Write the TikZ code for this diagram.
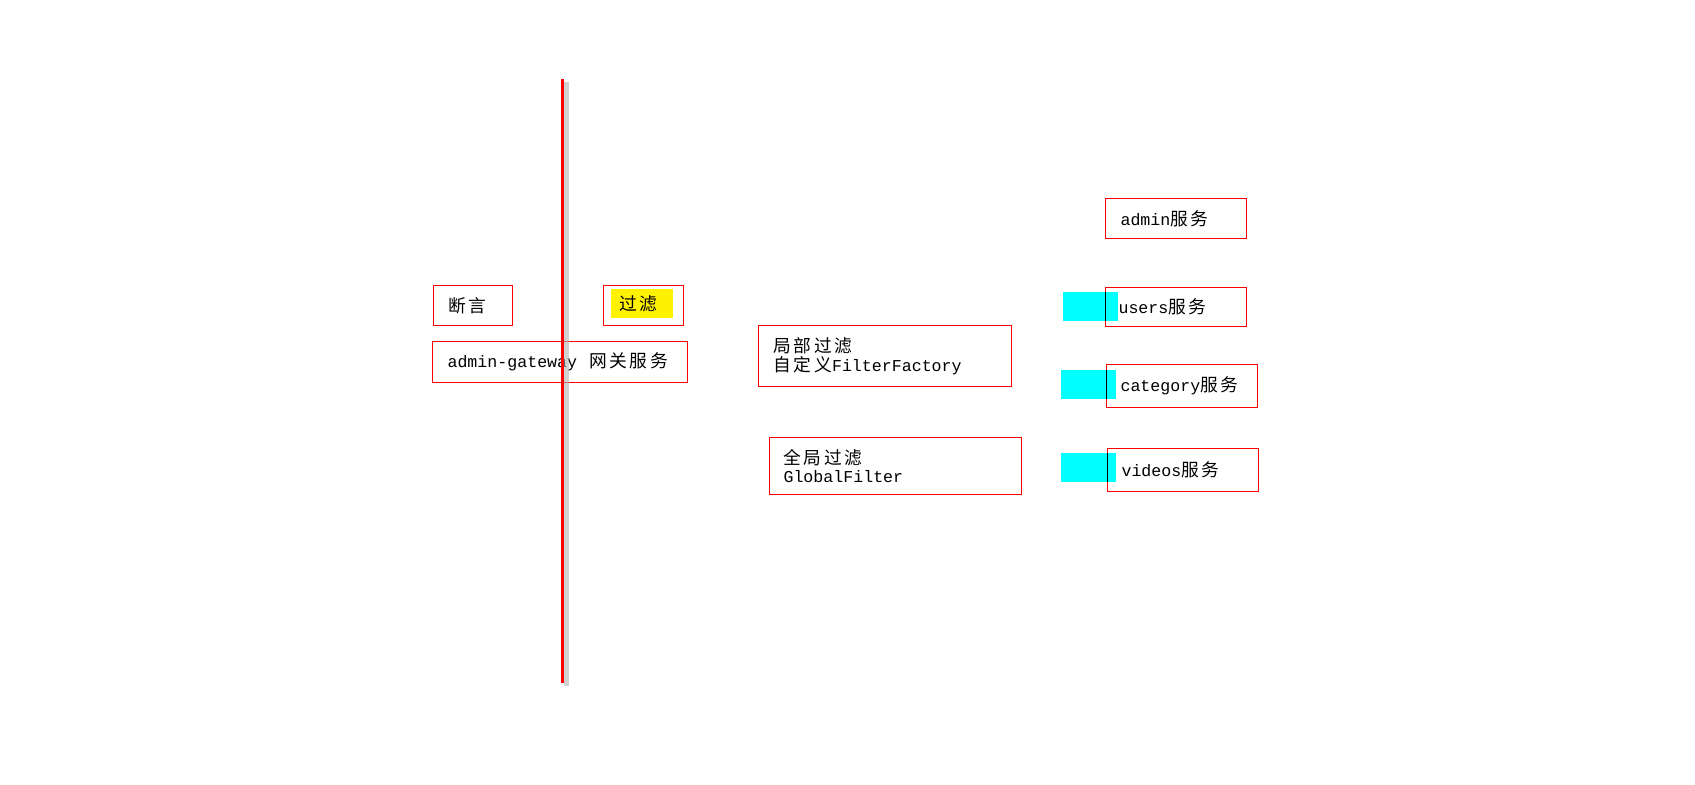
\documentclass[tikz,border=0pt]{standalone}
\usepackage{fontspec}
\setmonofont{Liberation Mono}[Scale=0.89]
\newfontfamily\cjk{Noto Sans CJK SC}[Scale=0.95,LetterSpace=15]
\newcommand\zh[1]{{\cjk #1}}
\definecolor{aqua}{RGB}{0,255,255}

\begin{document}
\begin{tikzpicture}[x=0.75pt,y=-0.75pt,
    box/.style={draw=red,line width=0.8pt,anchor=north west,align=left,inner ysep=0pt,
      font=\fontsize{14pt}{14pt}\selectfont\ttfamily},
    patch/.style={fill=aqua,blend mode=multiply}]
  \useasboundingbox (0,0) rectangle (1695,785);

  % gateway side
  \node[box,inner xsep=11.25pt,text width=36.75pt,minimum height=30pt] (duanyan) at (433,285) {\zh{断言}};
  \node[box,minimum width=60pt,minimum height=30pt] (guolv) at (603,285) {};
  \node[fill=yellow,anchor=north west,align=left,inner xsep=6pt,inner ysep=0pt,text width=34.5pt,
    minimum height=21.75pt,font=\fontsize{14pt}{14pt}\selectfont] (guolvtxt)
    at ([xshift=6pt,yshift=-3pt]guolv.north west) {\zh{过滤}};
  \node[box,inner xsep=11.25pt,text width=168.75pt,minimum height=30.75pt] (gateway) at (432,341) {admin-gateway\hspace{9pt}\zh{网关服务}};

  % filters
  \node[box,inner xsep=11.25pt,text width=167.25pt,minimum height=45.75pt] (jubu) at (758,325) {\zh{局部过滤}\\\zh{自定义}FilterFactory};
  \node[box,inner xsep=10.5pt,text width=168pt,minimum height=42.75pt] (quanju) at (769,437) {\zh{全局过滤}\\GlobalFilter};

  % services
  \node[box,inner xsep=11.25pt,text width=83.25pt,minimum height=30pt] (admin) at (1105,198) {admin\zh{服务}};
  \node[box,inner xsep=9.75pt,text width=86.25pt,minimum height=29.25pt] (users) at (1105,287) {users\zh{服务}};
  \node[box,inner xsep=10.5pt,text width=92.25pt,minimum height=32.25pt] (category) at (1106,364) {category\zh{服务}};
  \node[box,inner xsep=10.5pt,text width=92.25pt,minimum height=32.25pt] (videos) at (1107,448) {videos\zh{服务}};

  \fill[patch] (1063,292) rectangle +(55,29);
  \fill[patch] (1061,370) rectangle +(55,29);
  \fill[patch] (1061,453) rectangle +(55,29);

  % divider
  \coordinate (top) at (562,79);
  \coordinate (bot) at (562,683);
  \draw[black!30,line width=3.75pt,opacity=0.6] ([xshift=3pt,yshift=-2pt]top) -- ([xshift=3pt,yshift=-2pt]bot);
  \draw[red,line width=2.25pt] (top) -- (bot);
\end{tikzpicture}
\end{document}
